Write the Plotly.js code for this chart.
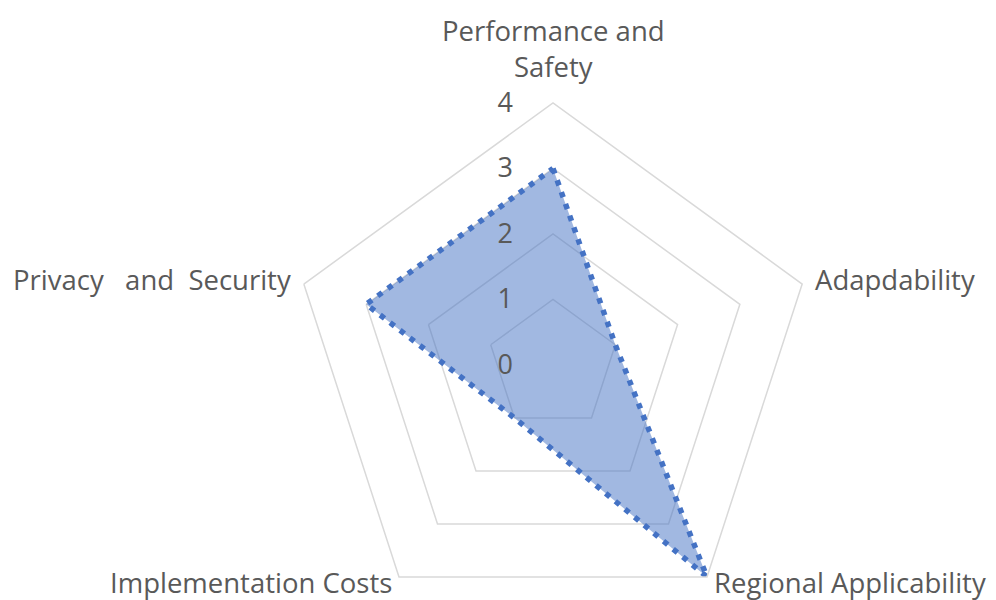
<!DOCTYPE html>
<html>
<head>
<meta charset="utf-8">
<script src="https://cdn.plot.ly/plotly-3.0.1.min.js"></script>
<style>
html, body { margin:0; padding:0; width:996px; height:600px; overflow:hidden; background:#fff; }
#chart { width:996px; height:640px; }
</style>
</head>
<body>
<div id="chart"></div>
<script>
const categories = [
  "Performance and<br>Safety",
  "Adapdability",
  "Regional Applicability",
  "Implementation Costs",
  "Privacy\u00a0\u00a0\u00a0and\u00a0\u00a0Security"
];
const scores = [3, 1, 4, 1, 3];
const radialTicks = [0, 1, 2, 3, 4];

const W = 996, H = 640;
const cx = 553, cyTop = 365, R = 262;
const labelFont = { family: '"Open Sans", Lato, sans-serif', size: 27.5, color: '#595959' };

const trace = {
  type: 'scatterpolar',
  r: scores.concat([scores[0]]),
  theta: categories.concat([categories[0]]),
  mode: 'lines',
  fill: 'toself',
  fillcolor: 'rgba(68,114,196,0.5)',
  line: { color: '#4472C4', width: 5.5, dash: '5.5px,7px' },
  hoverinfo: 'skip'
};

// category labels placed just outside each vertex of the outer pentagon
const annotations = categories.map(function (txt, i) {
  const a = (90 - 72 * i) * Math.PI / 180;
  const vx = cx + R * Math.cos(a);
  const vy = cyTop - R * Math.sin(a);
  const c = Math.cos(a), s = Math.sin(a);
  const gap = s < 0 ? 5 : 11;
  let xa = 'center', px = vx, py;
  if (c > 0.1) { xa = 'left'; px = vx + gap; }
  else if (c < -0.1) { xa = 'right'; px = vx - gap; }
  if (s > 0.9) py = vy - 54;
  else if (s > 0) py = vy - 5;
  else py = vy + 6;
  return {
    xref: 'paper', yref: 'paper',
    x: px / W, y: (H - py) / H,
    xanchor: xa, yanchor: 'middle',
    text: txt, showarrow: false,
    font: labelFont, align: 'center'
  };
});

const layout = {
  width: W,
  height: H,
  margin: { l: 0, r: 0, t: 0, b: 0 },
  paper_bgcolor: '#ffffff',
  showlegend: false,
  font: labelFont,
  annotations: annotations,
  polar: {
    domain: {
      x: [(cx - R) / W, (cx + R) / W],
      y: [(H - cyTop - R) / H, (H - cyTop + R) / H]
    },
    bgcolor: 'rgba(0,0,0,0)',
    gridshape: 'linear',
    angularaxis: {
      type: 'category',
      categoryarray: categories,
      rotation: 90,
      direction: 'clockwise',
      showgrid: false,
      showline: true,
      linecolor: '#d9d9d9',
      linewidth: 1.5,
      ticks: '',
      showticklabels: false
    },
    radialaxis: {
      range: [0, 4],
      tickvals: radialTicks,
      ticktext: radialTicks.map(String),
      angle: 90,
      side: 'counterclockwise',
      showline: false,
      showgrid: true,
      gridcolor: '#d9d9d9',
      gridwidth: 1.5,
      ticks: 'outside',
      ticklen: 30,
      tickcolor: 'rgba(0,0,0,0)',
      tickangle: 90,
      tickfont: { family: '"Open Sans", Lato, sans-serif', size: 27, color: '#595959' }
    }
  }
};

Plotly.newPlot('chart', [trace], layout, { staticPlot: true, displayModeBar: false });
</script>
</body>
</html>
